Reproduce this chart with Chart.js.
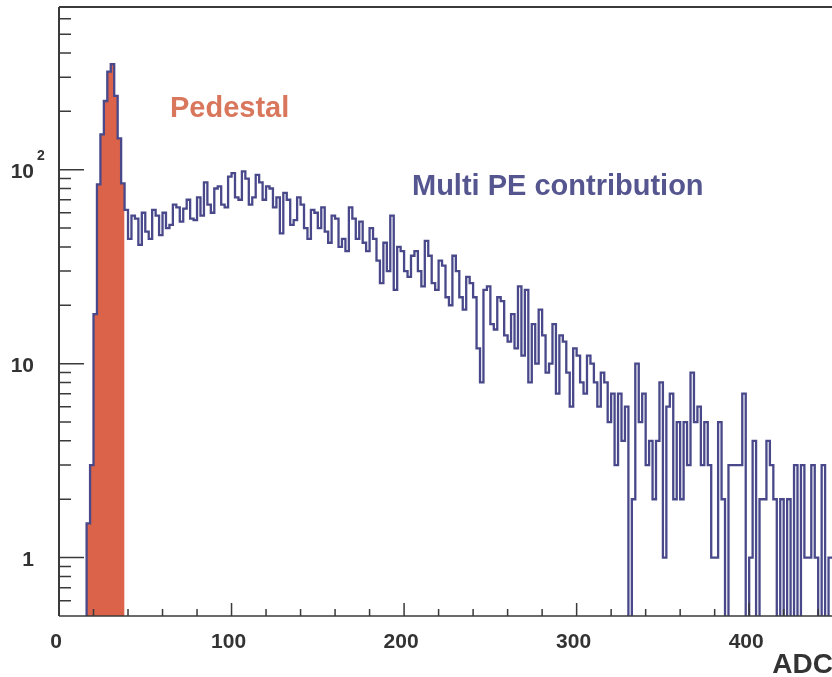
<!DOCTYPE html>
<html>
<head>
<meta charset="utf-8">
<title>ADC spectrum</title>
<script src="https://cdn.jsdelivr.net/npm/chart.js@4.4.1/dist/chart.umd.min.js"></script>
<style>
  html, body { margin: 0; padding: 0; background: #ffffff; overflow: hidden; }
  #wrap { width: 832px; height: 677px; }
</style>
</head>
<body>
<div id="wrap"><canvas id="spectrum" width="832" height="677"></canvas></div>
<script>
  'use strict';

  // Histogram binning (ADC counts per 2-channel bin).
  const BIN_WIDTH = 2;

  // Total spectrum, bin 0 = ADC 0..2. null = empty range left of the pedestal.
  const totalCounts = [
    null, null, null, null, null, null, null, 0,
    1.5, 3, 18, 84, 152, 226, 320, 350, 240, 145, 85,
    62, 44, 58, 56, 41, 60, 48, 44, 62, 58, 46,
    60, 50, 52, 66, 64, 54, 63, 70, 56, 55,
    72, 58, 86, 66, 60, 80, 82, 66, 64, 92,
    96, 72, 70, 98, 90, 66, 72, 94, 86, 70,
    82, 80, 64, 72, 47, 76, 70, 52, 55, 72,
    66, 50, 44, 62, 60, 50, 64, 48, 42, 58,
    56, 40, 44, 38, 64, 56, 44, 54, 42, 38,
    50, 44, 34, 26, 42, 30, 58, 24, 40, 38,
    30, 28, 36, 38, 30, 25, 43, 36, 26, 24,
    34, 32, 22, 20, 36, 30, 22, 19, 28, 26,
    22, 12, 8, 24, 25, 16, 15, 22, 21, 14,
    13, 18, 12, 25, 11, 24, 8, 16, 10, 19,
    14, 9, 10, 16, 7, 14, 13, 9, 6, 12,
    11, 8, 7, 11, 10, 8, 6, 9, 8, 5,
    7, 3, 7, 4, 6, 0, 2, 10, 5, 7,
    3, 4, 2, 4, 8, 1, 6, 7, 2, 5,
    2, 5, 3, 9, 5, 6, 3, 5, 3, 1,
    1, 5, 2, 0, 3, 3, 3, 3, 7, 0,
    1, 4, 0, 2, 2, 4, 3, 2, 0, 2,
    0, 2, 0, 3, 0, 3, 1, 1, 3, 1,
    0, 3, 0, 1,
  ];

  // Pedestal part (filled), starting at bin 8 (ADC 16).
  const PEDESTAL_FIRST_BIN = 8;
  const pedestalCounts = [1.5, 3, 18, 84, 152, 226, 320, 350, 240, 145, 85];

  // Axis ticks
  const xMajorTicks = [0, 100, 200, 300, 400];
  const xMinorTicks = [20, 40, 60, 80, 120, 140, 160, 180, 220, 240, 260, 280,
    320, 340, 360, 380, 420, 440];
  const yMajorTicks = [1, 10, 100];
  const yMinorTicks = [0.6, 0.7, 0.8, 0.9, 2, 3, 4, 5, 6, 7, 8, 9,
    20, 30, 40, 50, 60, 70, 80, 90, 200, 300, 400, 500, 600];

  const X_MIN = 0;
  const X_MAX = 448;
  const Y_MIN = 0.5;
  const Y_MAX = 690;
  // empty bins are drawn down past the axis, as ROOT does on a log scale
  const EMPTY_FLOOR = 0.05;

  const AXIS = '#3a3a3a';
  const LABEL = '#333333';
  const LINE_BLUE = '#48488a';
  const PED_RED = '#da6349';
  const FONT = '"Liberation Sans", Arial, Helvetica, sans-serif';

  // Step points at the left edge of each bin, plus a closing point at the end.
  function stepPoints(counts, firstBin) {
    const pts = counts.map((c, i) => ({
      x: (firstBin + i) * BIN_WIDTH,
      y: c === 0 ? EMPTY_FLOOR : c,
    }));
    pts.push({ x: (firstBin + counts.length) * BIN_WIDTH, y: pts[pts.length - 1].y });
    return pts;
  }

  const pedestalPoints = stepPoints(pedestalCounts, PEDESTAL_FIRST_BIN);
  // close the filled area down to the axis on the right side
  pedestalPoints[pedestalPoints.length - 1].y = EMPTY_FLOOR;

  // ROOT-like frame: inward ticks, labels, annotations.
  const rootFrame = {
    id: 'rootFrame',
    afterDraw(chart) {
      const { ctx, chartArea: a } = chart;
      const x = chart.scales.x;
      const y = chart.scales.y;
      ctx.save();
      ctx.strokeStyle = AXIS;

      ctx.lineWidth = 2;
      ctx.beginPath();
      ctx.moveTo(a.left, a.top);
      ctx.lineTo(a.right, a.top);
      ctx.moveTo(a.left, a.top);
      ctx.lineTo(a.left, a.bottom);
      ctx.stroke();
      ctx.lineWidth = 1.5;
      ctx.beginPath();
      ctx.moveTo(a.left, a.bottom);
      ctx.lineTo(a.right, a.bottom);
      ctx.stroke();

      ctx.lineWidth = 1.5;
      ctx.beginPath();
      yMajorTicks.forEach((v) => {
        const py = y.getPixelForValue(v);
        ctx.moveTo(a.left, py);
        ctx.lineTo(a.left + 25, py);
      });
      yMinorTicks.forEach((v) => {
        const py = y.getPixelForValue(v);
        ctx.moveTo(a.left, py);
        ctx.lineTo(a.left + 12, py);
      });
      xMajorTicks.forEach((v) => {
        const px = x.getPixelForValue(v);
        ctx.moveTo(px, a.bottom);
        ctx.lineTo(px, a.bottom - 13);
      });
      xMinorTicks.forEach((v) => {
        const px = x.getPixelForValue(v);
        ctx.moveTo(px, a.bottom);
        ctx.lineTo(px, a.bottom - 7);
      });
      ctx.stroke();

      // tick labels
      ctx.fillStyle = LABEL;
      ctx.font = 'bold 21px ' + FONT;
      ctx.textBaseline = 'middle';
      ctx.textAlign = 'center';
      xMajorTicks.forEach((v) => {
        ctx.fillText(String(v), x.getPixelForValue(v) - 3, 642);
      });
      ctx.textAlign = 'right';
      yMajorTicks.forEach((v) => {
        const py = y.getPixelForValue(v) + 3;
        const txt = v === 100 ? '10' : String(v);
        ctx.fillText(txt, 34, py);
        if (v === 100) {
          ctx.font = 'bold 14px ' + FONT;
          ctx.textAlign = 'left';
          ctx.fillText('2', 37, py - 17);
          ctx.font = 'bold 21px ' + FONT;
          ctx.textAlign = 'right';
        }
      });

      // axis title
      ctx.font = 'bold 28px ' + FONT;
      ctx.textBaseline = 'alphabetic';
      ctx.textAlign = 'right';
      ctx.fillText('ADC', 833, 673);

      // annotations
      ctx.font = 'bold 29px ' + FONT;
      ctx.textAlign = 'left';
      ctx.fillStyle = '#d9775d';
      ctx.fillText('Pedestal', 170, 117);
      ctx.fillStyle = '#55558f';
      ctx.fillText('Multi PE contribution', 412, 195);
      ctx.restore();
    },
  };

  new Chart(document.getElementById('spectrum'), {
    type: 'line',
    data: {
      datasets: [
        {
          label: 'Pedestal',
          data: pedestalPoints,
          stepped: 'before',
          borderWidth: 0,
          borderColor: PED_RED,
          backgroundColor: PED_RED,
          fill: 'start',
          pointRadius: 0,
          order: 2,
        },
        {
          label: 'Total',
          data: stepPoints(totalCounts, 0),
          stepped: 'before',
          borderWidth: 2.3,
          borderColor: LINE_BLUE,
          fill: false,
          pointRadius: 0,
          order: 1,
        },
      ],
    },
    options: {
      responsive: false,
      animation: false,
      layout: { padding: { top: 7, left: 0, right: 0, bottom: 0 } },
      plugins: {
        legend: { display: false },
        tooltip: { enabled: false },
      },
      scales: {
        x: {
          type: 'linear',
          min: X_MIN,
          max: X_MAX,
          bounds: 'data',
          grid: { display: false },
          border: { display: false },
          ticks: { display: false },
          afterFit: (scale) => { scale.height = 61; },
        },
        y: {
          type: 'logarithmic',
          min: Y_MIN,
          max: Y_MAX,
          bounds: 'data',
          grid: { display: false },
          border: { display: false },
          ticks: { display: false },
          afterFit: (scale) => { scale.width = 59; },
        },
      },
    },
    plugins: [rootFrame],
  });
</script>
</body>
</html>
